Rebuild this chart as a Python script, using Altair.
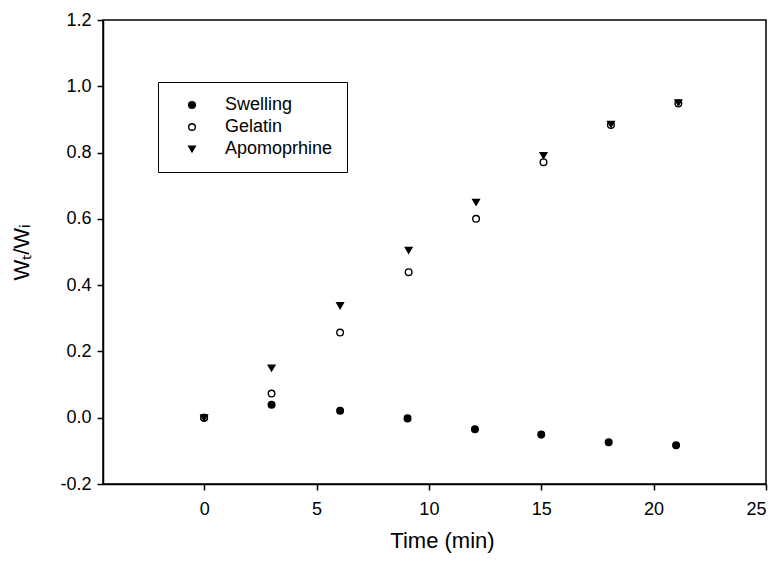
import altair as alt
import pandas as pd

# Sampling times (min)
time_swelling = [0, 3.0, 6.05, 9.05, 12.05, 15.0, 18.0, 21.0]
time_release = [0, 3.0, 6.05, 9.1, 12.1, 15.1, 18.1, 21.1]

# Wt/Wi readings for each series
swelling = [0.0, 0.039, 0.021, -0.002, -0.035, -0.051, -0.074, -0.083]
gelatin = [0.0, 0.073, 0.257, 0.439, 0.600, 0.771, 0.883, 0.948]
apomorphine = [0.0, 0.150, 0.338, 0.505, 0.650, 0.791, 0.885, 0.950]

series_names = ["Swelling", "Gelatin", "Apomoprhine"]
x_ticks = [0, 5, 10, 15, 20, 25]
y_ticks = [-0.2, 0.0, 0.2, 0.4, 0.6, 0.8, 1.0, 1.2]

rows = []
for name, times, values in [
    ("Swelling", time_swelling, swelling),
    ("Gelatin", time_release, gelatin),
    ("Apomoprhine", time_release, apomorphine),
]:
    for t, v in zip(times, values):
        rows.append({"series": name, "time": t, "ratio": v, "order": series_names.index(name)})
df = pd.DataFrame(rows)

FONT = "Liberation Sans"
# plain hyphen for negative tick labels
HYPHEN_LABEL = "replace(datum.label, '\u2212', '-')"

shape_scale = alt.Scale(domain=series_names, range=["circle", "circle", "triangle-down"])
fill_scale = alt.Scale(domain=series_names, range=["black", "white", "black"])
stroke_scale = alt.Scale(domain=series_names, range=["black", "black", "black"])

chart = (
    alt.Chart(df)
    .mark_point(filled=True, strokeWidth=1.4, size=44, opacity=1)
    .encode(
        x=alt.X(
            "time:Q",
            scale=alt.Scale(domain=[-4.5, 25], nice=False, zero=False),
            axis=alt.Axis(
                values=x_ticks,
                format="d",
                title="Time (min)",
                titleX=339,
                titleY=63,
                titleBaseline="alphabetic",
                labelPadding=10,
            ),
        ),
        y=alt.Y(
            "ratio:Q",
            scale=alt.Scale(domain=[-0.2, 1.2], nice=False, zero=False),
            axis=alt.Axis(
                values=y_ticks,
                format=".1f",
                labelExpr=HYPHEN_LABEL,
                title="Wₜ/Wᵢ",
                titleX=-75,
                titleBaseline="alphabetic",
                labelPadding=6,
            ),
        ),
        shape=alt.Shape("series:N", scale=shape_scale, legend=alt.Legend(title=None)),
        fill=alt.Fill("series:N", scale=fill_scale, legend=alt.Legend(title=None)),
        stroke=alt.Stroke("series:N", scale=stroke_scale, legend=alt.Legend(title=None)),
        order=alt.Order("order:Q"),
    )
    .properties(
        width=663,
        height=464,
        autosize=alt.AutoSizeParams(type="none"),
        padding={"left": 103, "top": 20, "right": 12, "bottom": 79},
        background="white",
    )
    .configure_view(stroke="black", strokeWidth=1.5)
    .configure_axis(
        grid=False,
        domainColor="black",
        domainWidth=1.5,
        tickColor="black",
        tickWidth=1.5,
        tickSize=6,
        labelFont=FONT,
        labelFontSize=18,
        labelColor="black",
        titleFont=FONT,
        titleFontSize=22,
        titleFontWeight="normal",
        titleColor="black",
    )
    .configure_legend(
        orient="none",
        legendX=55,
        legendY=62,
        strokeColor="black",
        fillColor="white",
        padding=14,
        labelFont=FONT,
        labelFontSize=18,
        labelColor="black",
        labelOffset=24,
        rowPadding=4,
        symbolOffset=11,
        symbolSize=44,
        symbolStrokeWidth=1.4,
    )
)

chart.save("out.html", embed_options={"renderer": "svg", "actions": False})
